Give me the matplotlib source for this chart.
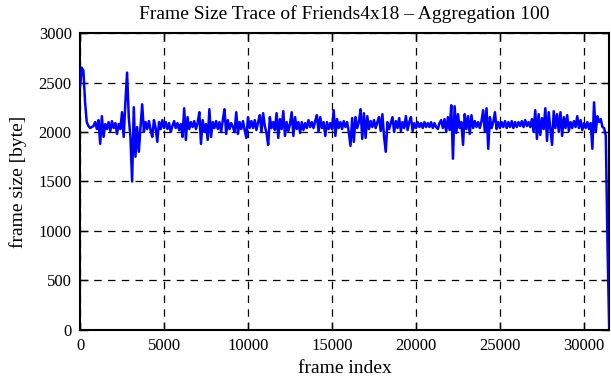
import numpy as np
import matplotlib
matplotlib.use('Agg')
import matplotlib.pyplot as plt

# frame sizes aggregated over 100 frames
agg_step = 100
frame_size = [
    2450, 2650, 2620, 2300, 2100, 2060, 2040, 2050, 2060, 2100,
    2030, 2120, 1880, 2160, 1950, 2080, 2030, 2100, 2010, 2110,
    2040, 2090, 1980, 2080, 2030, 2200, 1950, 2300, 2600, 2150,
    1950, 1500, 2250, 1750, 2050, 1800, 2050, 2280, 2000, 2100,
    2030, 2110, 2020, 1950, 2120, 2040, 1900, 2100, 2030, 2120,
    2040,
    2100, 2030, 2090, 2000, 2060, 2110, 2040, 2090, 2020, 2080,
    1950, 2240, 1920, 2150, 2030, 2100, 2050, 2110, 2030, 2090,
    2200, 1880, 2120, 2000, 2080, 1920, 2230, 1950, 2100, 2040,
    2110, 2030, 2100, 2000, 2120, 2230, 1980, 2120, 2030, 2090,
    2050, 2000, 2200, 1980, 2100, 2030, 2110, 2020, 1940, 2150,
    2040, 2110, 2040, 2120, 2020, 2100, 2170, 2000, 2190, 2060,
    1990, 1870, 2150, 2040, 2100, 2020, 2190, 1940, 2130, 2030,
    2210, 1960, 2100, 2010, 2080, 2200, 1960, 2150, 2030, 2100,
    1990, 2100, 2020, 2090, 2040, 2120, 2050, 2100, 2040, 2110,
    2170, 2000, 2150, 2040, 2100, 1960, 2100, 2030, 2090, 2030,
    2220, 1960, 2130, 2040, 2100, 2030, 2110, 2050, 2100, 2000,
    1860, 2140, 1900, 2150, 2040, 2100, 2230, 1930, 2190, 1940,
    2160, 2030, 2110, 2050, 2120, 2040, 2100, 2150, 2010, 2180,
    1950, 1800, 2100, 2030, 2090, 2150, 2000, 2110, 2040, 2140,
    2010, 2100, 2040, 2160, 2020, 2100, 2150, 2010, 2090, 2040,
    2100, 2050, 2090, 2040, 2100, 2050, 2090, 2050, 2100, 2040,
    2090, 2050, 2030, 2090, 2120, 2040, 2130, 2000, 2150, 2020,
    2270, 1730, 2260, 1990, 2180, 2040, 2100, 1870, 2180, 2030,
    2160, 1980, 2170, 2040, 2110, 2050, 2100, 2040, 2110, 2220,
    2000, 2240, 1830, 2150, 2040, 2100, 2200, 2030, 2100, 2040,
    2100, 2050, 2110, 2040, 2100, 2050, 2110, 2040, 2100, 2050,
    2100, 2060, 2110, 2050, 2120, 2060, 2100, 2050, 2130, 2000,
    2220, 1930, 2180, 1970, 2140, 2030, 2240, 1910, 2200, 2040,
    1870, 2210, 2040, 2180, 2000, 2200, 1960, 2150, 2040, 2170,
    2010, 2100, 2040, 2110, 2050, 2160, 2040, 2120, 2020, 2090,
    2040, 2100, 2030, 2090, 1830, 2300, 2000, 2160, 2100, 2130,
    2050, 2040, 1960, 870, 30,
]
frame_index = np.arange(len(frame_size)) * agg_step

x_ticks = [0, 5000, 10000, 15000, 20000, 25000, 30000]
y_ticks = [0, 500, 1000, 1500, 2000, 2500, 3000]

plt.rcParams['font.family'] = ['Liberation Serif', 'DejaVu Serif']
plt.rcParams['font.size'] = 12

fig = plt.figure(figsize=(6.11, 3.80), dpi=100)
ax = fig.add_axes([0.131, 0.132, 0.866, 0.781])

ax.plot(frame_index, frame_size, color='#0000ff', linewidth=1.8, zorder=3)

ax.set_xlim(0, frame_index[-1])
ax.set_ylim(0, 3000)
ax.set_xticks(x_ticks)
ax.set_yticks(y_ticks)

ax.grid(True, color='black', linestyle=(0, (6, 5)), linewidth=0.9)
ax.set_axisbelow(True)
ax.tick_params(direction='in', length=6, width=1.0, top=True, right=True,
               labelsize=12, pad=6)
for sp in ax.spines.values():
    sp.set_linewidth(1.5)

ax.set_xlabel('frame index', fontsize=14, labelpad=4)
ax.set_ylabel('frame size [byte]', fontsize=14, labelpad=8)
ax.set_title('Frame Size Trace of Friends4x18 \u2013 Aggregation 100',
             fontsize=14, pad=10)

fig.savefig('out.png', dpi=100)
